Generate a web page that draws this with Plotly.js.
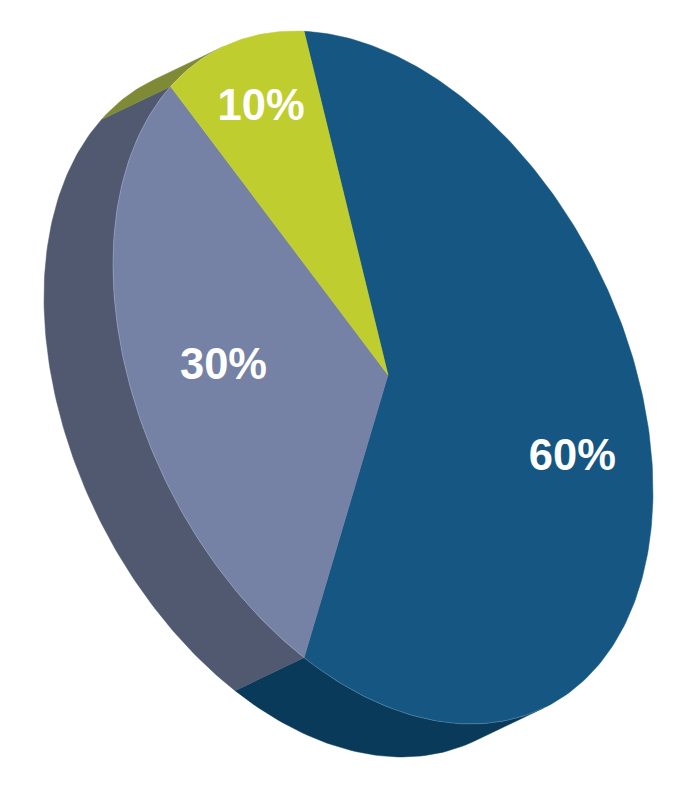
<!DOCTYPE html>
<html>
<head>
<meta charset="utf-8">
<script src="https://cdn.plot.ly/plotly-3.0.1.min.js"></script>
<style>html,body{margin:0;padding:0;background:#fff}#c{width:674px;height:800px}</style>
</head>
<body>
<div id="c"></div>
<script>
var labels = ['60%', '30%', '10%'];
var values = [60, 30, 10];
var topColors = ['#155782', '#7581A5', '#BFCE2E'];
var sideColors = ['#0A3A5A', '#515971', '#7F8A36'];
var labelRadius = [0.683, 0.6406, 0.80];
var labelShiftY = [4.2, -6, -3.7];

// Projection of the tilted disc onto the page
var cx = 383, cy = 377.5, a = 270, b = 113, c = 327.5;
var apexX = 388, apexY = 375;
var labelOriginX = 388, labelOriginY = 378;
var ox = -69, oy = 33;
var startDeg = -108;
var warpSin = -1.05, warpCos = -3.0; // slight perspective correction of the angle

function toRad(deg) { return deg * Math.PI / 180; }
function warped(deg) {
  var t = toRad(deg);
  return deg + warpSin * Math.sin(t) + warpCos * (Math.cos(t) + 0.309);
}
function dirAt(t) { return [a * Math.cos(t), b * Math.cos(t) + c * Math.sin(t)]; }
function pt(deg) {
  var d = dirAt(toRad(warped(deg)));
  return [cx + d[0], cy + d[1]];
}
function arc(d0, d1) {
  var n = Math.max(2, Math.ceil(Math.abs(d1 - d0))), out = [];
  for (var i = 0; i <= n; i++) out.push(pt(d0 + (d1 - d0) * i / n));
  return out;
}
// silhouette tangent, in the ellipse's own parameter
var tanDeg = Math.atan(ox * c / (b * ox - a * oy)) * 180 / Math.PI;
function unwarp(target) {
  var d = target;
  for (var k = 0; k < 20; k++) d += target - warped(d);
  return d;
}
var tan0 = unwarp(tanDeg), tan1 = unwarp(tanDeg + 180);

var total = values.reduce(function (s, v) { return s + v; }, 0);
var sideTraces = [], topTraces = [], edgeTraces = [];
var tx = [], ty = [];
var cur = startDeg;
function xs(pts) { return pts.map(function (p) { return p[0]; }); }
function ys(pts) { return pts.map(function (p) { return p[1]; }); }
values.forEach(function (v, i) {
  var d0 = cur, d1 = cur + v / total * 360;
  cur = d1;
  // visible part of the rim: the stretch between the two silhouette tangents
  var s0 = Math.max(d0, tan0), s1 = Math.min(d1, tan1);
  if (s1 > s0) {
    var rim = arc(s0, s1);
    var band = rim.concat(rim.slice().reverse().map(function (p) { return [p[0] + ox, p[1] + oy]; }));
    band.push(rim[0]);
    sideTraces.push({
      type: 'scatter', mode: 'lines', fill: 'toself', fillcolor: sideColors[i],
      x: xs(band), y: ys(band),
      line: {color: sideColors[i], width: 0.5}, hoverinfo: 'skip', showlegend: false
    });
    edgeTraces.push({
      type: 'scatter', mode: 'lines', x: xs(rim), y: ys(rim),
      line: {color: 'rgba(255,255,255,0.3)', width: 0.6}, hoverinfo: 'skip', showlegend: false
    });
  }
  var wedge = [[apexX, apexY]].concat(arc(d0, d1));
  wedge.push([apexX, apexY]);
  topTraces.push({
    type: 'scatter', mode: 'lines', fill: 'toself', fillcolor: topColors[i],
    x: xs(wedge), y: ys(wedge),
    line: {color: topColors[i], width: 0.5}, hoverinfo: 'skip', showlegend: false
  });
  var ld = dirAt(toRad((d0 + d1) / 2));
  tx.push(labelOriginX + labelRadius[i] * ld[0]);
  ty.push(labelOriginY + labelRadius[i] * ld[1] + labelShiftY[i]);
});

var textTrace = {
  type: 'scatter', mode: 'text', x: tx, y: ty, text: labels, textposition: 'middle center',
  textfont: {family: 'Liberation Sans, Arial, sans-serif', size: 43.5, color: '#FFFFFF', weight: 700},
  hoverinfo: 'skip', showlegend: false
};

var layout = {
  width: 674, height: 800, margin: {l: 0, r: 0, t: 0, b: 0},
  paper_bgcolor: '#fff', plot_bgcolor: '#fff', showlegend: false,
  xaxis: {range: [0, 674], visible: false, fixedrange: true},
  yaxis: {range: [800, 0], visible: false, fixedrange: true}
};
Plotly.newPlot('c', sideTraces.concat(topTraces, edgeTraces, [textTrace]), layout, {displayModeBar: false, staticPlot: true});
</script>
</body>
</html>
